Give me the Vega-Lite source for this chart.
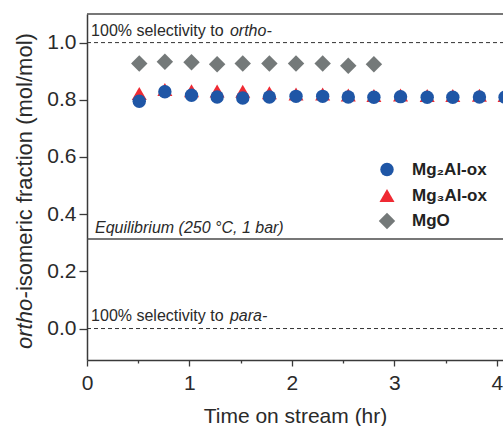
{
  "$schema": "https://vega.github.io/schema/vega-lite/v6.json",
  "autosize": "none",
  "width": 416,
  "height": 346,
  "padding": {"left": 87, "top": 14, "right": 0, "bottom": 66},
  "background": "white",
  "config": {
    "view": {"stroke": null},
    "font": "Liberation Sans",
    "axis": {"domainColor": "#3a3a3a", "domainWidth": 1.5, "tickColor": "#3a3a3a", "tickWidth": 1.3, "labelColor": "#2a2a2a", "titleColor": "#2a2a2a", "grid": false, "labelFlush": false, "labelFont": "Liberation Sans", "titleFont": "Liberation Sans", "labelFontSize": 21, "titleFontSize": 21, "titleFontWeight": "normal"}
  },
  "layer": [
    {
      "data": {"values": [{"v": 1.0}, {"v": 0.0}]},
      "mark": {"type": "rule", "strokeDash": [4, 3], "color": "#333333", "strokeWidth": 1},
      "encoding": {
        "y": {"field": "v", "type": "quantitative", "scale": {"domain": [-0.11, 1.1], "nice": false, "zero": false},
          "axis": {"values": [0, 0.1, 0.2, 0.3, 0.4, 0.5, 0.6, 0.7, 0.8, 0.9, 1.0],
            "labelExpr": "round(datum.value*10) % 2 == 0 ? format(datum.value, '.1f') : ''",
            "tickSize": {"condition": {"test": "round(datum.value*10) % 2 == 0", "value": 8}, "value": 4},
            "labelPadding": 3, "title": null}},
        "x": {"datum": 0, "type": "quantitative", "scale": {"domain": [0, 4.06], "nice": false, "zero": false},
          "axis": {"values": [0, 0.5, 1, 1.5, 2, 2.5, 3, 3.5, 4],
            "labelExpr": "round(datum.value*2) % 2 == 0 ? format(datum.value, 'd') : ''",
            "tickSize": {"condition": {"test": "round(datum.value*2) % 2 == 0", "value": 6}, "value": 3},
            "labelPadding": 6, "title": "Time on stream (hr)", "titlePadding": 12}},
        "x2": {"datum": 4.06}
      }
    },
    {
      "data": {"values": [{"v": 0.313}, {"v": 1.1}]},
      "mark": {"type": "rule", "color": "#4a4a4a", "strokeWidth": 1.5},
      "encoding": {
        "y": {"field": "v", "type": "quantitative"},
        "x": {"datum": 0, "type": "quantitative"},
        "x2": {"datum": 4.06}
      }
    },
    {
      "data": {"values": [
        {"t": 0.51, "v": 0.927, "s": "MgO"},
        {"t": 0.76, "v": 0.933, "s": "MgO"},
        {"t": 1.02, "v": 0.931, "s": "MgO"},
        {"t": 1.27, "v": 0.924, "s": "MgO"},
        {"t": 1.52, "v": 0.927, "s": "MgO"},
        {"t": 1.78, "v": 0.927, "s": "MgO"},
        {"t": 2.04, "v": 0.927, "s": "MgO"},
        {"t": 2.30, "v": 0.927, "s": "MgO"},
        {"t": 2.55, "v": 0.919, "s": "MgO"},
        {"t": 2.80, "v": 0.924, "s": "MgO"},
        {"t": 0.51, "v": 0.822, "s": "Mg₃Al-ox"},
        {"t": 0.76, "v": 0.836, "s": "Mg₃Al-ox"},
        {"t": 1.02, "v": 0.832, "s": "Mg₃Al-ox"},
        {"t": 1.27, "v": 0.831, "s": "Mg₃Al-ox"},
        {"t": 1.52, "v": 0.830, "s": "Mg₃Al-ox"},
        {"t": 1.78, "v": 0.825, "s": "Mg₃Al-ox"},
        {"t": 2.04, "v": 0.820, "s": "Mg₃Al-ox"},
        {"t": 2.30, "v": 0.820, "s": "Mg₃Al-ox"},
        {"t": 2.55, "v": 0.817, "s": "Mg₃Al-ox"},
        {"t": 2.80, "v": 0.815, "s": "Mg₃Al-ox"},
        {"t": 3.06, "v": 0.817, "s": "Mg₃Al-ox"},
        {"t": 3.32, "v": 0.815, "s": "Mg₃Al-ox"},
        {"t": 3.57, "v": 0.815, "s": "Mg₃Al-ox"},
        {"t": 3.83, "v": 0.816, "s": "Mg₃Al-ox"},
        {"t": 4.08, "v": 0.815, "s": "Mg₃Al-ox"},
        {"t": 0.51, "v": 0.795, "s": "Mg₂Al-ox"},
        {"t": 0.76, "v": 0.828, "s": "Mg₂Al-ox"},
        {"t": 1.02, "v": 0.816, "s": "Mg₂Al-ox"},
        {"t": 1.27, "v": 0.810, "s": "Mg₂Al-ox"},
        {"t": 1.52, "v": 0.806, "s": "Mg₂Al-ox"},
        {"t": 1.78, "v": 0.810, "s": "Mg₂Al-ox"},
        {"t": 2.04, "v": 0.812, "s": "Mg₂Al-ox"},
        {"t": 2.30, "v": 0.812, "s": "Mg₂Al-ox"},
        {"t": 2.55, "v": 0.810, "s": "Mg₂Al-ox"},
        {"t": 2.80, "v": 0.809, "s": "Mg₂Al-ox"},
        {"t": 3.06, "v": 0.811, "s": "Mg₂Al-ox"},
        {"t": 3.32, "v": 0.809, "s": "Mg₂Al-ox"},
        {"t": 3.57, "v": 0.809, "s": "Mg₂Al-ox"},
        {"t": 3.83, "v": 0.810, "s": "Mg₂Al-ox"},
        {"t": 4.08, "v": 0.809, "s": "Mg₂Al-ox"}
      ]},
      "mark": {"type": "point", "filled": true, "opacity": 1},
      "encoding": {
        "x": {"field": "t", "type": "quantitative"},
        "y": {"field": "v", "type": "quantitative"},
        "color": {"field": "s", "type": "nominal", "scale": {"domain": ["Mg₂Al-ox", "Mg₃Al-ox", "MgO"], "range": ["#1f56a6", "#ef2a33", "#747979"]},
          "legend": {"orient": "none", "legendX": 291, "legendY": 147, "title": null, "padding": 0, "labelFontSize": 17, "labelFontWeight": "bold", "labelColor": "#222222", "labelOffset": 16, "rowPadding": 8, "labelFont": "Liberation Sans"}},
        "shape": {"field": "s", "type": "nominal", "scale": {"domain": ["Mg₂Al-ox", "Mg₃Al-ox", "MgO"], "range": ["circle", "triangle-up", "diamond"]}},
        "size": {"field": "s", "type": "nominal", "scale": {"domain": ["Mg₂Al-ox", "Mg₃Al-ox", "MgO"], "range": [180, 270, 320]}}
      }
    },
    {
      "data": {"values": [
        {"t": 0.04, "v": 1.022, "label": "100% selectivity to"},
        {"t": 0.04, "v": 0.027, "label": "100% selectivity to"}
      ]},
      "mark": {"type": "text", "align": "left", "baseline": "alphabetic", "fontSize": 16, "color": "#2a2a2a"},
      "encoding": {
        "x": {"field": "t", "type": "quantitative"},
        "y": {"field": "v", "type": "quantitative"},
        "text": {"field": "label"}
      }
    },
    {
      "data": {"values": [
        {"t": 1.395, "v": 1.022, "label": "ortho-"},
        {"t": 1.395, "v": 0.027, "label": "para-"},
        {"t": 0.078, "v": 0.334, "label": "Equilibrium (250 °C, 1 bar)"}
      ]},
      "mark": {"type": "text", "align": "left", "baseline": "alphabetic", "fontSize": 16, "fontStyle": "italic", "color": "#2a2a2a"},
      "encoding": {
        "x": {"field": "t", "type": "quantitative"},
        "y": {"field": "v", "type": "quantitative"},
        "text": {"field": "label"}
      }
    },
    {
      "data": {"values": [{"t": -0.605, "v": 0.029, "label": "ortho-"}]},
      "mark": {"type": "text", "align": "center", "baseline": "middle", "angle": 270, "fontSize": 22, "fontStyle": "italic", "color": "#2a2a2a"},
      "encoding": {
        "x": {"field": "t", "type": "quantitative"},
        "y": {"field": "v", "type": "quantitative"},
        "text": {"field": "label"}
      }
    },
    {
      "data": {"values": [{"t": -0.605, "v": 0.582, "label": "isomeric fraction (mol/mol)"}]},
      "mark": {"type": "text", "align": "center", "baseline": "middle", "angle": 270, "fontSize": 22, "color": "#2a2a2a"},
      "encoding": {
        "x": {"field": "t", "type": "quantitative"},
        "y": {"field": "v", "type": "quantitative"},
        "text": {"field": "label"}
      }
    }
  ]
}
